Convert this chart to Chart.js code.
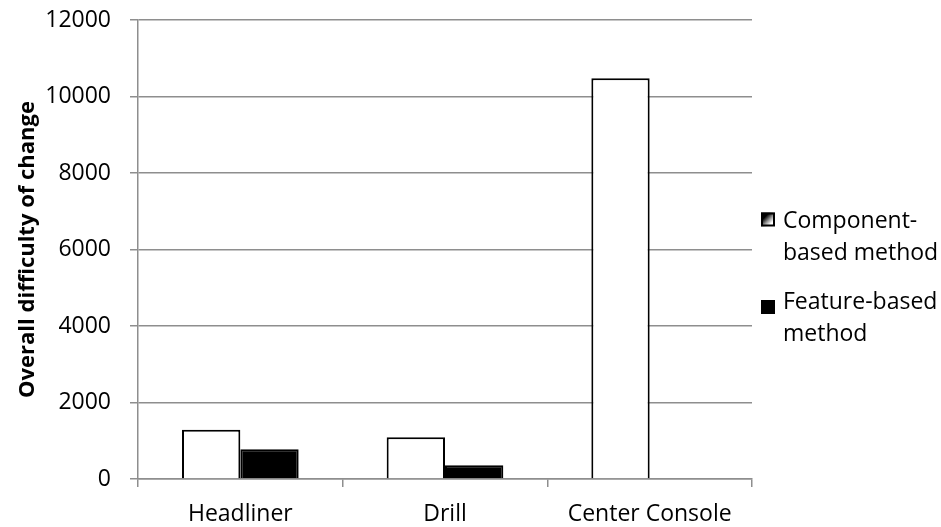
<!DOCTYPE html>
<html>
<head>
<meta charset="utf-8">
<script src="https://cdn.jsdelivr.net/npm/chart.js@4/dist/chart.umd.min.js"></script>
<style>
  html, body { margin: 0; padding: 0; background: #ffffff; }
  #wrap { width: 941px; height: 527px; }
</style>
</head>
<body>
<div id="wrap"><canvas id="chart" width="941" height="527"></canvas></div>
<script>
// Parts and their difficulty-of-change scores for each method
const categories = ['Headliner', 'Drill', 'Center Console'];
const seriesNames = ['Component-based method', 'Feature-based method'];
const componentBased = [1290, 1090, 10480];
const featureBased = [775, 360, 0];
const yTicks = [0, 2000, 4000, 6000, 8000, 10000, 12000];
const yTitle = 'Overall difficulty of change';

const FONT = '"Open Sans", "Liberation Sans", sans-serif';
const GRID = '#8e8e8e';

// Legend drawn to the right of the plot, with labels wrapped over two lines
const sideLegend = {
  id: 'sideLegend',
  afterDraw(chart) {
    const ctx = chart.ctx;
    ctx.save();
    ctx.font = '23px ' + FONT;
    ctx.fillStyle = '#000000';
    ctx.textBaseline = 'alphabetic';
    const wrap = (text, maxW) => {
      const tokens = text.match(/[^\s-]+-?|\s+/g).filter(t => t.trim().length);
      const lines = [];
      let cur = '';
      tokens.forEach(tok => {
        const joiner = cur === '' || cur.endsWith('-') ? '' : ' ';
        const trial = cur + joiner + tok;
        if (cur !== '' && ctx.measureText(trial).width > maxW) {
          lines.push(cur);
          cur = tok;
        } else {
          cur = trial;
        }
      });
      if (cur) lines.push(cur);
      return lines;
    };
    const textX = 783;
    const baselines = [228, 309];
    const lineGap = 31.5;
    chart.data.datasets.forEach((ds, i) => {
      const lines = wrap(ds.label, 160);
      const by = baselines[i];
      lines.forEach((ln, k) => ctx.fillText(ln, textX, by + k * lineGap));
      // swatch
      const s = 14;
      const sx = 761;
      const sy = i === 0 ? by - 15.5 : by - 9;
      if (i === 0) {
        const g = ctx.createLinearGradient(sx, sy, sx + s, sy + s);
        g.addColorStop(0, '#000000');
        g.addColorStop(0.3, '#000000');
        g.addColorStop(0.55, '#9a9a9a');
        g.addColorStop(0.75, '#ffffff');
        g.addColorStop(1, '#ffffff');
        ctx.fillStyle = g;
        ctx.fillRect(sx, sy, s, s);
        ctx.strokeStyle = '#000000';
        ctx.lineWidth = 2;
        ctx.strokeRect(sx + 1, sy + 1, s - 2, s - 2);
        ctx.fillStyle = '#000000';
      } else {
        ctx.fillStyle = ds.backgroundColor;
        ctx.fillRect(sx, sy, s, s);
      }
    });
    ctx.restore();
  }
};

new Chart(document.getElementById('chart'), {
  type: 'bar',
  data: {
    labels: categories,
    datasets: [
      {
        label: seriesNames[0],
        data: componentBased,
        backgroundColor: '#ffffff',
        borderColor: '#000000',
        borderWidth: 2
      },
      {
        label: seriesNames[1],
        data: featureBased,
        backgroundColor: '#000000',
        borderColor: '#000000',
        borderWidth: 2
      }
    ]
  },
  options: {
    responsive: false,
    animation: false,
    events: [],
    layout: { padding: { top: 20, right: 189, bottom: 0, left: 0 } },
    datasets: { bar: { categoryPercentage: 0.57, barPercentage: 1.0 } },
    plugins: {
      legend: { display: false },
      tooltip: { enabled: false },
      title: { display: false }
    },
    scales: {
      x: {
        afterFit(scale) { scale.height = 48; },
        grid: {
          offset: true,
          drawOnChartArea: false,
          drawTicks: true,
          tickLength: 8,
          color: GRID,
          lineWidth: 1.5
        },
        border: { color: GRID, width: 1.5 },
        ticks: {
          color: '#000000',
          padding: 14,
          maxRotation: 0,
          font: { family: FONT, size: 23 }
        }
      },
      y: {
        min: 0,
        max: 12000,
        afterFit(scale) {
          scale.width = 138;
          scale.paddingTop = 0;
          scale.paddingBottom = 0;
        },
        afterBuildTicks(scale) { scale.ticks = yTicks.map(v => ({ value: v })); },
        grid: {
          drawOnChartArea: true,
          drawTicks: true,
          tickLength: 8,
          color: GRID,
          lineWidth: 1.5
        },
        border: { color: GRID, width: 1.5 },
        ticks: {
          color: '#000000',
          padding: 19,
          font: { family: FONT, size: 23 },
          callback: (v) => String(v)
        },
        title: {
          display: true,
          text: yTitle,
          color: '#000000',
          padding: { top: 15, bottom: 0 },
          font: { family: FONT, size: 22, weight: 'bold' }
        }
      }
    }
  },
  plugins: [sideLegend]
});
</script>
</body>
</html>
